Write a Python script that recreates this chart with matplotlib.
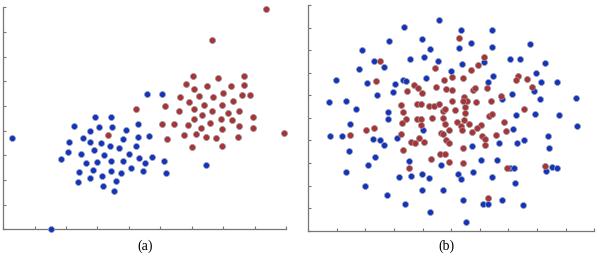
#%% Libraries
"""
Two scatter panels: (a) two separated clusters, (b) overlapping clusters
"""
import numpy as np
import matplotlib
matplotlib.use('Agg')
import matplotlib.pyplot as plt

#%% Data
"""
Panel (a) - separable classes
"""
a_blue_x = [0.29, 1.51, 2.93, 3.43, 2.24, 3.05, 3.47, 4.30, 2.77, 3.91,
            2.53, 2.10, 2.77, 3.12, 3.82, 4.28, 4.65, 3.41, 3.69, 4.22,
            2.06, 2.47, 2.90, 3.21, 3.99, 4.32, 4.74, 1.85, 2.62, 2.97,
            3.43, 3.80, 4.52, 5.12, 2.40, 2.86, 3.43, 3.75, 4.06, 4.46,
            5.17, 2.38, 2.77, 3.14, 3.58, 3.18, 3.54, 6.46, 4.58, 5.06]
a_blue_y = [3.71, 0.00, 4.56, 4.55, 4.19, 4.16, 4.16, 4.28, 3.97, 4.01,
            3.70, 3.52, 3.52, 3.49, 3.65, 3.76, 3.78, 3.38, 3.28, 3.36,
            3.15, 3.07, 3.20, 3.00, 3.04, 2.90, 2.94, 2.85, 2.70, 2.73,
            2.78, 2.78, 2.68, 2.76, 2.31, 2.40, 2.38, 2.28, 2.47, 2.36,
            2.28, 1.92, 2.07, 2.16, 1.95, 1.76, 1.55, 2.59, 5.47, 5.49]

a_red_x = [8.36, 6.66, 6.05, 7.66, 5.81, 6.83, 6.08, 6.48, 7.68, 7.26,
           5.63, 6.22, 6.68, 7.00, 7.61, 7.86, 5.91, 7.32, 4.22, 5.14,
           5.59, 6.08, 6.39, 6.96, 6.66, 7.17, 7.50, 6.34, 6.08, 6.92,
           7.29, 7.96, 5.04, 5.43, 5.87, 6.57, 7.52, 6.30, 6.96, 7.96,
           3.32, 5.21, 5.76, 6.14, 6.46, 6.78, 7.46, 6.02, 6.96, 8.95]
a_red_y = [8.94, 7.67, 6.20, 6.20, 5.89, 6.12, 5.67, 5.81, 5.85, 5.81,
           5.36, 5.39, 5.36, 5.52, 5.46, 5.46, 5.17, 5.21, 4.86, 5.00,
           4.78, 4.86, 5.03, 5.05, 4.80, 4.73, 4.81, 4.62, 4.46, 4.49,
           4.44, 4.57, 4.28, 4.28, 4.22, 4.31, 4.19, 4.10, 4.07, 4.09,
           3.83, 3.67, 3.84, 3.85, 3.73, 3.70, 3.73, 3.34, 3.36, 3.89]

"""
Panel (b) - overlapping classes
"""
b_blue_x = [4.59, 3.35, 5.33, 6.42, 2.83, 3.99, 5.70, 7.74, 1.90, 4.27,
            5.28, 6.43, 2.29, 3.56, 4.05, 4.53, 5.38, 6.15, 7.05, 7.40,
            8.28, 1.79, 2.64, 5.01, 7.95, 0.98, 2.05, 3.31, 3.41, 4.13,
            6.28, 6.46, 8.13, 8.71, 3.05, 2.96, 2.39, 7.91, 7.12, 8.09,
            9.36, 0.73, 1.33, 1.67, 2.78, 2.78, 7.28, 7.93, 8.78, 1.47,
            9.40, 6.78, 0.78, 1.17, 1.42, 2.27, 2.52, 2.65, 3.09, 4.03,
            2.34, 2.09, 1.32, 3.54, 3.19, 3.58, 3.97, 4.22, 2.00, 2.76,
            3.98, 4.71, 3.39, 4.27, 4.65, 5.23, 5.35, 5.75, 5.42, 5.52,
            5.74, 6.05, 6.60, 6.43, 6.66, 7.15, 7.29, 7.54, 7.05, 7.18,
            7.22, 6.11, 6.28, 6.78, 7.51, 8.39, 8.43, 8.31, 8.53, 8.70]
b_blue_y = [9.32, 9.03, 8.91, 8.88, 8.40, 8.49, 8.33, 8.29, 8.01, 8.06,
            8.08, 8.13, 7.51, 7.59, 7.68, 7.53, 7.40, 7.47, 7.59, 7.62,
            7.44, 7.15, 7.25, 7.08, 6.99, 6.69, 6.56, 6.69, 6.63, 6.75,
            6.58, 6.86, 6.59, 6.60, 6.51, 6.14, 6.00, 6.17, 6.05, 5.82,
            5.89, 5.70, 5.76, 5.38, 5.25, 4.96, 5.12, 5.18, 5.12, 4.74,
            4.62, 5.85, 4.21, 4.19, 3.54, 4.06, 4.04, 3.78, 4.09, 4.47,
            3.25, 2.92, 2.61, 3.10, 2.38, 2.41, 2.50, 2.35, 1.97, 1.60,
            1.80, 1.80, 1.19, 0.82, 2.93, 2.53, 2.29, 2.59, 1.35, 0.37,
            3.74, 3.14, 3.14, 2.38, 3.90, 4.51, 3.90, 4.01, 2.76, 2.76,
            2.11, 1.17, 1.17, 1.38, 1.15, 4.21, 3.66, 2.66, 2.81, 2.76]

b_red_x = [5.28, 2.50, 6.13, 4.43, 5.94, 5.68, 2.37, 4.76, 5.03, 5.42,
           7.33, 7.26, 7.66, 3.70, 3.84, 3.45, 3.98, 4.48, 4.82, 5.03,
           5.75, 5.82, 6.25, 7.83, 5.45, 5.55, 5.40, 5.03, 5.86, 6.38,
           6.73, 3.25, 3.82, 3.93, 4.24, 4.39, 4.58, 3.33, 4.71, 4.78,
           5.12, 5.49, 5.49, 6.32, 6.43, 7.54, 3.43, 3.81, 3.93, 4.33,
           4.71, 5.19, 5.46, 6.83, 2.30, 3.29, 3.93, 4.80, 5.33, 5.62,
           6.04, 2.04, 1.47, 3.25, 4.64, 4.70, 4.91, 5.39, 5.73, 5.89,
           6.07, 6.18, 6.57, 6.91, 3.88, 3.60, 3.74, 4.04, 4.82, 4.94,
           3.31, 4.29, 4.60, 4.80, 4.92, 5.41, 3.52, 5.42, 6.17, 6.96,
           8.28, 6.28]
b_red_y = [8.54, 7.53, 7.69, 7.22, 7.33, 7.10, 6.63, 6.69, 6.83, 6.77,
           6.86, 6.69, 6.72, 6.44, 6.31, 6.20, 6.09, 6.37, 6.26, 6.23,
           6.23, 6.31, 6.31, 6.36, 5.91, 5.76, 5.75, 5.74, 5.70, 5.73,
           5.97, 5.55, 5.61, 5.61, 5.54, 5.54, 5.61, 5.26, 5.30, 5.41,
           5.33, 5.46, 5.23, 5.10, 5.18, 5.41, 4.96, 4.93, 4.96, 4.98,
           5.01, 4.80, 4.91, 4.83, 4.56, 4.76, 4.68, 4.71, 4.66, 4.71,
           4.70, 4.48, 4.22, 4.30, 4.32, 4.28, 4.44, 4.48, 4.36, 4.54,
           4.20, 4.05, 4.24, 4.43, 4.12, 3.92, 3.89, 3.95, 4.01, 3.90,
           3.58, 3.19, 3.41, 3.41, 3.05, 3.00, 2.79, 3.66, 3.81, 2.79,
           2.88, 1.46]

panel_labels = ['(a)', '(b)']

#%% Figure creation
"""
Figure settings
"""
blue = '#1535b8'
red = '#a6353a'
fig = plt.figure(figsize=(5.97, 2.54), dpi=100)

def style_ax(ax, xmax, ymax):
    ax.set_xlim(0, xmax)
    ax.set_ylim(0, ymax)
    ax.set_xticks(np.arange(0, xmax + 1))
    ax.set_yticks(np.arange(0, ymax + 1))
    ax.set_xticklabels([])
    ax.set_yticklabels([])
    ax.tick_params(direction='in', length=2.5, width=0.8, color='#777777')
    for side in ['top', 'right']:
        ax.spines[side].set_visible(False)
    for side in ['left', 'bottom']:
        ax.spines[side].set_color('#777777')
        ax.spines[side].set_linewidth(0.9)

"""
Ax settings - panel (a)
"""
ax = fig.add_axes([0.0055, 0.0972, 0.4734, 0.874])
style_ax(ax, 9, 9)
ax.scatter(a_blue_x, a_blue_y, s=19, c=blue, edgecolors='#9aa0c0', linewidths=0.5, clip_on=False, zorder=3)
ax.scatter(a_red_x, a_red_y, s=19, c=red, edgecolors='#a09090', linewidths=0.5, clip_on=False, zorder=3)

"""
Ax settings - panel (b)
"""
ax = fig.add_axes([0.5161, 0.0917, 0.4794, 0.8886])
style_ax(ax, 10, 10)
ax.scatter(b_blue_x, b_blue_y, s=19, c=blue, edgecolors='#9aa0c0', linewidths=0.5, clip_on=False, zorder=3)
ax.scatter(b_red_x, b_red_y, s=19, c=red, edgecolors='#a09090', linewidths=0.5, clip_on=False, zorder=3)

"""
Panel labels
"""
for xpos, lab in zip([0.243, 0.747], panel_labels):
    fig.text(xpos, 0.032, lab, ha='center', va='center', fontsize=10, family='Liberation Serif')

fig.savefig('out.png', dpi=100, facecolor='w')
